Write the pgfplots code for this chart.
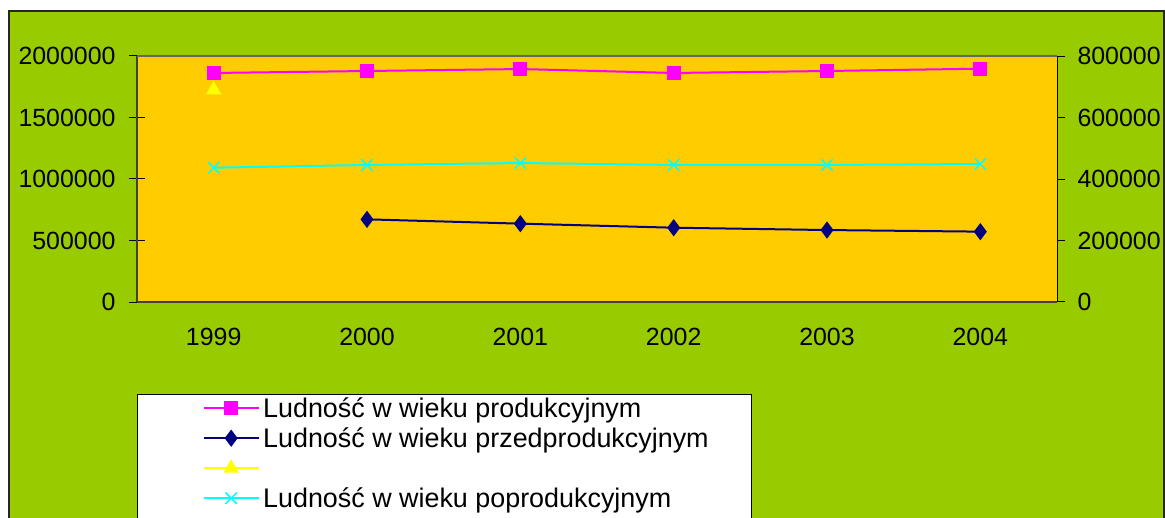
\documentclass[border=0pt]{standalone}
\usepackage{pgfplots}
\pgfplotsset{compat=1.18}
\usepackage{fontspec}
\setmainfont{Liberation Sans}
\definecolor{bggreen}{HTML}{99CC00}
\definecolor{plotorange}{HTML}{FFCC00}
\definecolor{navyc}{HTML}{000080}
\definecolor{magc}{HTML}{FF00FF}
\definecolor{cyanc}{HTML}{00FFFF}
\definecolor{yelc}{HTML}{FFFF00}
\begin{document}
\begin{tikzpicture}
\useasboundingbox (0,0) rectangle (1165bp,518bp);
\fill[white] (0,0) rectangle (1165bp,518bp);
\filldraw[fill=bggreen, draw=black!85, line width=2bp] (9bp,-5bp) rectangle (1164bp,507bp);
\filldraw[fill=white, draw=black, line width=1bp] (137bp,-5bp) rectangle (751bp,123bp);
% right axis
\begin{axis}[
  at={(137bp,216bp)}, anchor=south west,
  scale only axis, width=920bp, height=246bp,
  xmin=-0.5, xmax=5.5, ymin=0, ymax=800000,
  axis x line=none,
  axis y line*=right,
  axis line style={black, line width=1.2bp, -},
  ytick={0,200000,400000,600000,800000},
  scaled y ticks=false,
  tick align=center, major tick length=16bp,
  tick style={black, line width=1bp},
  yticklabel style={font=\fontsize{25}{29}\selectfont, /pgf/number format/fixed, /pgf/number format/1000 sep={}, /pgf/number format/assume math mode=true, xshift=9bp},
]
\end{axis}
\begin{axis}[
  at={(137bp,216bp)}, anchor=south west,
  scale only axis, width=920bp, height=246bp,
  xmin=-0.5, xmax=5.5, ymin=0, ymax=2000000,
  axis background/.style={fill=plotorange},
  axis y line*=left,
  axis x line*=bottom,
  axis line style={black!75, line width=1.5bp, -},
  xtick={0,...,5},
  xticklabels={1999,2000,2001,2002,2003,2004},
  minor xtick={0.5,1.5,2.5,3.5,4.5},
  ytick={0,500000,1000000,1500000,2000000},
  scaled y ticks=false,
  tick align=center,
  major tick length=16bp, minor tick length=16bp,
  tick style={black, line width=1bp},
  xtick style={draw=none},
  minor tick style={black, line width=1bp},
  yticklabel style={font=\fontsize{25}{29}\selectfont, /pgf/number format/fixed, /pgf/number format/1000 sep={}, /pgf/number format/assume math mode=true, xshift=-10bp},
  xticklabel style={font=\fontsize{25}{29}\selectfont, /pgf/number format/assume math mode=true, yshift=-15bp},
  legend cell align=left,
  legend style={at={(0.0717,-0.37)}, anchor=north west, draw=none, fill=none,
    font=\fontsize{27}{31}\selectfont, inner sep=0pt,
    nodes={inner xsep=3bp, inner ysep=0pt, minimum height=30bp}},
  legend image code/.code={\draw[mark repeat=2,mark phase=2,#1] plot coordinates {(0bp,0bp) (27bp,0bp) (55bp,0bp)};},
  clip=false,
]
\draw[black!60, line width=1.5bp] (rel axis cs:0,1) -- (rel axis cs:1,1);
\addplot[magc, line width=2bp, mark=square*, mark size=6bp, mark options={fill=magc, draw=magc}]
  coordinates {(0,1862000)(1,1878000)(2,1894000)(3,1862000)(4,1878000)(5,1897000)};
\addlegendentry{Ludność w wieku produkcyjnym}
\addplot[navyc, line width=2bp, mark=diamond*, mark size=7bp, mark options={fill=navyc, draw=navyc}]
  coordinates {(1,672000)(2,637000)(3,604000)(4,585000)(5,572000)};
\addlegendentry{Ludność w wieku przedprodukcyjnym}
\addplot[yelc, line width=2bp, mark=triangle*, mark size=7bp, mark options={fill=yelc, draw=yelc}]
  coordinates {(0,1724000)};
\addlegendentry{}
\addplot[cyanc, line width=2bp, mark=x, mark size=8bp, mark options={draw=cyanc, line width=1.5bp}]
  coordinates {(0,1092000)(1,1114000)(2,1130000)(3,1114000)(4,1114000)(5,1122000)};
\addlegendentry{Ludność w wieku poprodukcyjnym}
\end{axis}
\end{tikzpicture}
\end{document}
